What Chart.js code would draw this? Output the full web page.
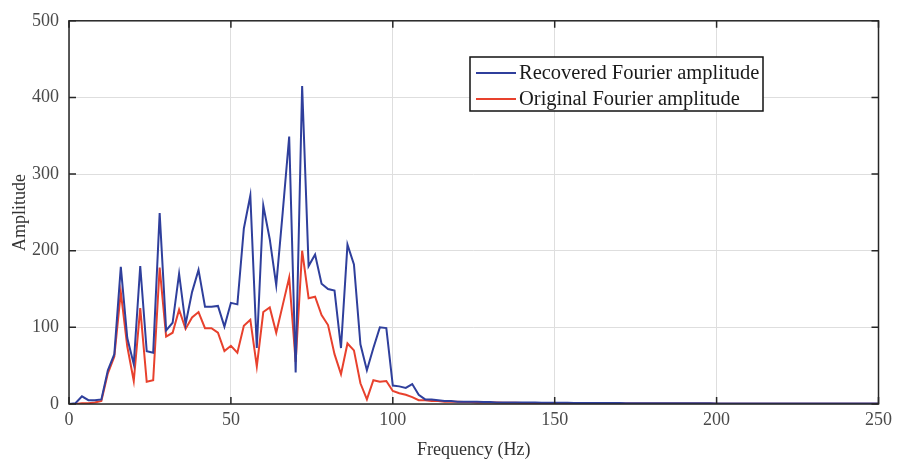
<!DOCTYPE html>
<html>
<head>
<meta charset="utf-8">
<script src="https://cdn.jsdelivr.net/npm/chart.js@4"></script>
<style>
  html, body { margin: 0; padding: 0; background: #fff; }
  #wrap { width: 897px; height: 465px; }
</style>
</head>
<body>
<div id="wrap"><canvas id="fftChart" width="897" height="465"></canvas></div>
<script>
const freqHz = [0,2,4,6,8,10,12,14,16,18,20,22,24,26,28,30,32,34,36,38,40,42,44,46,48,50,
  52,54,56,58,60,62,64,66,68,70,72,74,76,78,80,82,84,86,88,90,92,94,96,98,100,
  102,104,106,108,110,112,114,116,118,120,122,124,126,128,130,132,134,136,138,140,
  142,144,146,148,150,152,154,156,158,160,162,164,166,168,170,172,174,176,178,180,
  182,184,186,188,190,192,194,196,198,200,202,204,206,208,210,212,214,216,218,220,
  222,224,226,228,230,232,234,236,238,240,242,244,246,248,250];

const recoveredAmp = [0,1,10,5,5,6,44,65,179,86,52,180,69,67,249,96,106,170,104,146,175,
  127,127,128,101,132,130,229,272,73,259,215,155,250,349,41,415,180,195,157,150,
  148,73,208,182,78,44,73,100,99,24,23,21,26,12,6,6,5,4,4,3,
  3,3,3,2.5,2.5,2,2,2,2,2,1.8,1.8,1.6,1.6,1.5,1.5,1.5,1.4,1.4,1.3,
  1.3,1.3,1.2,1.2,1.2,1.1,1.1,1.1,1,1,1,1,1,1,0.9,0.9,0.9,0.9,0.9,0.8,
  0.8,0.8,0.8,0.8,0.8,0.7,0.7,0.7,0.7,0.7,0.7,0.6,0.6,0.6,0.6,0.6,0.6,0.6,0.5,0.5,
  0.5,0.5,0.5,0.5,0.5];

const originalAmp = [0,0,1,1,2,4,40,62,146,75,30,125,29,31,178,88,93,123,98,113,120,
  99,99,93,69,76,67,102,110,49,120,126,93,129,165,55,200,138,140,116,103,
  65,39,79,70,27,6,31,29,30,17,14,12,9,5,5,4,4,3,3,3,
  2.5,2.5,2,2,2,1.8,1.6,1.5,1.5,1.4,1.3,1.2,1.2,1.1,1,1,1,0.9,0.9,0.9,
  0.8,0.8,0.8,0.8,0.7,0.7,0.7,0.7,0.6,0.6,0.6,0.6,0.6,0.5,0.5,0.5,0.5,0.5,0.5,0.4,
  0.4,0.4,0.4,0.4,0.4,0.4,0.4,0.3,0.3,0.3,0.3,0.3,0.3,0.3,0.3,0.3,0.3,0.3,0.3,0.3,
  0.3,0.3,0.3,0.3,0.3];

const xTicks = [0, 50, 100, 150, 200, 250];
const yTicks = [0, 100, 200, 300, 400, 500];
const seriesNames = ['Recovered Fourier amplitude', 'Original Fourier amplitude'];

const blue = '#2f3f9c';
const red = '#e8412d';
const serif = '"Liberation Serif", "Times New Roman", serif';

function toPoints(vals) {
  return vals.map((v, i) => ({ x: freqHz[i], y: v }));
}

// matlab style: closed box, ticks pointing inwards, boxed legend
const frameLegendPlugin = {
  id: 'frameLegend',
  afterDraw(chart) {
    const ctx = chart.ctx;
    const a = chart.chartArea;
    const xs = chart.scales.x, ys = chart.scales.y;
    ctx.save();
    ctx.strokeStyle = '#262626';
    ctx.lineWidth = 1.5;
    ctx.strokeRect(a.left, a.top, a.right - a.left, a.bottom - a.top);

    ctx.beginPath();
    xTicks.forEach(t => {
      const px = xs.getPixelForValue(t);
      ctx.moveTo(px, a.bottom); ctx.lineTo(px, a.bottom - 7);
      ctx.moveTo(px, a.top); ctx.lineTo(px, a.top + 7);
    });
    yTicks.forEach(t => {
      const py = ys.getPixelForValue(t);
      ctx.moveTo(a.left, py); ctx.lineTo(a.left + 7, py);
      ctx.moveTo(a.right, py); ctx.lineTo(a.right - 7, py);
    });
    ctx.stroke();

    // legend box
    const bx = 470, by = 57, bw = 293, bh = 54;
    ctx.fillStyle = '#fff';
    ctx.fillRect(bx, by, bw, bh);
    ctx.strokeStyle = '#111';
    ctx.lineWidth = 1.5;
    ctx.strokeRect(bx, by, bw, bh);
    ctx.font = '20.5px ' + serif;
    ctx.textBaseline = 'middle';
    chart.data.datasets.forEach((ds, i) => {
      const ly = by + 16 + i * 26;
      ctx.strokeStyle = ds.borderColor;
      ctx.lineWidth = 2;
      ctx.beginPath();
      ctx.moveTo(bx + 6, ly); ctx.lineTo(bx + 46, ly);
      ctx.stroke();
      ctx.fillStyle = '#1a1a1a';
      ctx.fillText(ds.label, bx + 49, ly + 1);
    });
    ctx.restore();
  }
};

const ctx = document.getElementById('fftChart').getContext('2d');
new Chart(ctx, {
  type: 'line',
  plugins: [frameLegendPlugin],
  data: {
    datasets: [
      {
        label: seriesNames[0],
        data: toPoints(recoveredAmp),
        borderColor: blue,
        borderWidth: 2,
        pointRadius: 0,
        tension: 0,
        fill: false
      },
      {
        label: seriesNames[1],
        data: toPoints(originalAmp),
        borderColor: red,
        borderWidth: 2,
        pointRadius: 0,
        tension: 0,
        fill: false
      }
    ]
  },
  options: {
    responsive: false,
    animation: false,
    layout: { padding: { top: 14, right: 16, left: 0, bottom: 0 } },
    plugins: {
      legend: { display: false },
      tooltip: { enabled: false }
    },
    scales: {
      x: {
        type: 'linear',
        min: 0,
        max: 250,
        afterBuildTicks: s => { s.ticks = xTicks.map(v => ({ value: v })); },
        afterFit: s => { s.height = 61; },
        grid: { color: '#dedede', lineWidth: 1, drawTicks: false },
        border: { display: false },
        ticks: { color: '#4a4a4a', font: { family: serif, size: 18 }, padding: 5, maxRotation: 0 },
        title: {
          display: true,
          text: 'Frequency (Hz)',
          color: '#333',
          font: { family: serif, size: 18 },
          padding: { top: 2, bottom: 4 }
        }
      },
      y: {
        min: 0,
        max: 500,
        afterBuildTicks: s => { s.ticks = yTicks.map(v => ({ value: v })); },
        afterFit: s => { s.width = 69; },
        grid: { color: '#dedede', lineWidth: 1, drawTicks: false },
        border: { display: false },
        ticks: { color: '#4a4a4a', font: { family: serif, size: 18 }, padding: 10 },
        title: {
          display: true,
          text: 'Amplitude',
          color: '#333',
          font: { family: serif, size: 18 },
          padding: { top: 9, bottom: 0 }
        }
      }
    }
  }
});
</script>
</body>
</html>
